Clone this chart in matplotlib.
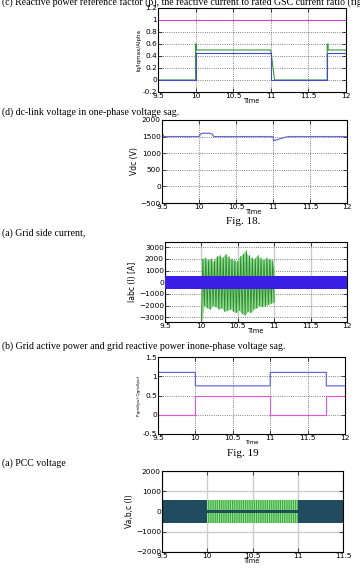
import matplotlib
matplotlib.use("Agg")
import matplotlib.pyplot as plt

W, H = 360, 571
plt.rcParams["hatch.linewidth"] = 0.6

# (c) reactive power reference factor / current ratio
rf_t = [9.5, 12.0]
rf_v = [1.0, 1.0]
iq_t = [9.5, 10.0, 10.0, 10.012, 10.012, 11.0, 11.05, 11.75, 11.75, 11.762, 11.762, 12.0]
iq_v = [0.0, 0.0, 0.6, 0.6, 0.5, 0.5, 0.0, 0.0, 0.6, 0.6, 0.5, 0.5]
al_t = [9.5, 10.0, 10.0, 11.0, 11.0, 11.75, 11.75, 12.0]
al_v = [0.0, 0.0, 0.45, 0.45, 0.0, 0.0, 0.45, 0.45]

# (d) dc-link voltage
vdc_t = [9.5, 9.504, 9.51, 9.52, 10.0, 10.02, 10.05, 10.15, 10.18, 10.2, 11.0, 11.01, 11.05, 11.1, 11.15, 11.2, 12.0]
vdc_v = [0, 1450, 1560, 1500, 1500, 1580, 1600, 1600, 1570, 1500, 1500, 1380, 1400, 1440, 1470, 1500, 1500]

# grid side current: healthy phases band, faulted-phase peaks
ib_t = [9.5, 12.0]
ib_hi = [520, 520]
ib_lo = [-540, -540]
gpk_t = [10.0, 10.04, 10.08, 10.12, 10.16, 10.2, 10.24, 10.28, 10.32, 10.36, 10.4, 10.44, 10.48,
         10.52, 10.56, 10.6, 10.64, 10.68, 10.72, 10.76, 10.8, 10.84, 10.88, 10.92, 10.96, 11.0]
gpk_hi = [2000, 2100, 1900, 2000, 1800, 2200, 2300, 2100, 2400, 2200, 2000, 1900, 1800,
          2200, 2400, 2700, 2300, 2100, 2000, 2300, 2100, 1900, 2100, 2000, 1900, 1100]
gpk_lo = [-3500, -2000, -2200, -2300, -2000, -2100, -2300, -2200, -2500, -2400, -2300, -2500, -2600,
          -2400, -2700, -2800, -2500, -2600, -2300, -2200, -2000, -2100, -2000, -1900, -1800, -1700]

# grid active / reactive power
p_t = [9.5, 9.5, 9.51, 10.0, 10.0, 11.0, 11.0, 11.75, 11.75, 12.0]
p_v = [0.0, 1.15, 1.1, 1.1, 0.75, 0.75, 1.1, 1.1, 0.75, 0.75]
q_t = [9.5, 10.0, 10.0, 11.0, 11.0, 11.75, 11.75, 12.0]
q_v = [0.0, 0.0, 0.5, 0.5, 0.0, 0.0, 0.5, 0.5]

# PCC voltage envelopes
pcc_ok = [(9.5, 10.0), (11.0, 11.5)]
pcc_sag = (10.0, 11.0)
pcc_amp = 560
pcc_low = 60

xt12 = [9.5, 10, 10.5, 11, 11.5, 12]
xl12 = ["9.5", "10", "10.5", "11", "11.5", "12"]


def axes_px(l, t, r, b):
    return fig.add_axes([l / W, 1 - b / H, (r - l) / W, (b - t) / H])


def style(ax, xlim, ylim, yticks, ylabel, ylsize=5.5):
    ax.set_xlim(*xlim); ax.set_ylim(*ylim)
    ax.set_yticks(yticks)
    ax.tick_params(direction="in", length=3, width=0.5, labelsize=5.3, pad=0.8,
                   top=True, right=True)
    for s in ax.spines.values():
        s.set_linewidth(0.8)
    ax.set_ylabel(ylabel, fontsize=ylsize, labelpad=1)
    ax.set_xlabel("Time", fontsize=4.8, labelpad=-0.5)


def cap(x, y, s, size=7.1, ha="left", va="center"):
    fig.text(x / W, 1 - y / H, s, fontsize=size, family=["Liberation Serif", "DejaVu Serif"],
             ha=ha, va=va)


fig = plt.figure(figsize=(W / 100, H / 100), dpi=100)

cap(2, 5, "(c) Reactive power reference factor (β), the reactive current to rated GSC current ratio (fig",
    va="baseline")

ax = axes_px(158, 8, 346, 92)
ax.plot(rf_t, rf_v, color="#cc44cc", lw=0.8)
ax.plot(iq_t, iq_v, color="#3a9a3a", lw=0.8)
ax.plot(al_t, al_v, color="#4848cc", lw=0.8)
ax.grid(True, ls=":", color="0.35", lw=0.6)
style(ax, (9.5, 12), (-0.2, 1.2), [-0.2, 0, 0.2, 0.4, 0.6, 0.8, 1, 1.2], "Iq/Iqmax/Alpha", 4)
ax.set_yticklabels(["-0.2", "0", "0.2", "0.4", "0.6", "0.8", "1", "1.2"])
ax.set_xticks(xt12); ax.set_xticklabels(xl12)

cap(2, 112, "(d) dc-link voltage in one-phase voltage sag.")
ax = axes_px(162, 120, 347, 203)
ax.plot(vdc_t, vdc_v, color="#6a6acc", lw=0.9)
ax.grid(True, ls=":", color="0.35", lw=0.6)
style(ax, (9.5, 12), (-500, 2000), [-500, 0, 500, 1000, 1500, 2000], "Vdc (V)")
ax.set_xticks(xt12); ax.set_xticklabels(xl12)
cap(243, 222, "Fig. 18.", size=8, ha="center")

cap(2, 233, "(a) Grid side current,")
ax = axes_px(165, 242, 347, 322)
zig_t, zig_v = [], []
for t, hi, lo in zip(gpk_t, gpk_hi, gpk_lo):
    zig_t += [t, t + 0.02]
    zig_v += [lo, hi]
ax.fill_between(gpk_t, gpk_lo, gpk_hi, color="#8fd88f", lw=0, zorder=2)
ax.plot(zig_t[:-1], zig_v[:-1], color="#2a8a2a", lw=0.6, zorder=3)
ax.fill_between(ib_t, ib_lo, ib_hi, color="#3a1ee6", lw=0, zorder=4)
ax.xaxis.grid(True, ls="-", color="0.8", lw=1)
ax.yaxis.grid(True, ls=":", color="0.35", lw=0.6)
ax.set_axisbelow(True)
style(ax, (9.5, 12), (-3400, 3450), [-3000, -2000, -1000, 0, 1000, 2000, 3000], "Iabc (l) [A]")
ax.set_xticks(xt12); ax.set_xticklabels(xl12)

cap(2, 346, "(b) Grid active power and grid reactive power inone-phase voltage sag.")
ax = axes_px(158, 357, 345, 434)
ax.plot(p_t, p_v, color="#5a5add", lw=0.8)
ax.plot(q_t, q_v, color="#dd55dd", lw=0.8)
ax.grid(True, ls=":", color="0.35", lw=0.6)
style(ax, (9.5, 12), (-0.5, 1.5), [-0.5, 0, 0.5, 1, 1.5], "Pgrid(pu) Qgrid(pu)", 3)
ax.set_yticklabels(["-0.5", "0", "0.5", "1", "1.5"])
ax.set_xticks(xt12); ax.set_xticklabels(xl12)
ax.xaxis.label.set_size(4)
cap(243, 453, "Fig. 19", size=8, ha="center")

cap(2, 463, "(a) PCC voltage")
ax = axes_px(162, 471, 343, 552)
for a, b in pcc_ok:
    ax.fill_between([a, b], [-pcc_amp] * 2, [pcc_amp] * 2, color="#214c60", lw=0, zorder=2)
ax.fill_between(pcc_sag, [-pcc_amp] * 2, [pcc_amp] * 2, facecolor="#9be89b",
                edgecolor="#2e9a2e", hatch="|" * 9, lw=0, zorder=2)
ax.fill_between(pcc_sag, [-pcc_low] * 2, [pcc_low] * 2, color="#1f4e5a", lw=0, zorder=3)
ax.grid(True, ls="-", color="0.8", lw=1)
ax.set_axisbelow(True)
style(ax, (9.5, 11.5), (-2000, 2000), [-2000, -1000, 0, 1000, 2000], "Va,b,c (l)")
ax.set_xticks([9.5, 10, 10.5, 11, 11.5])
ax.set_xticklabels(["9.5", "10", "10.5", "11", "11.5"])

fig.savefig("out.png", dpi=100)
